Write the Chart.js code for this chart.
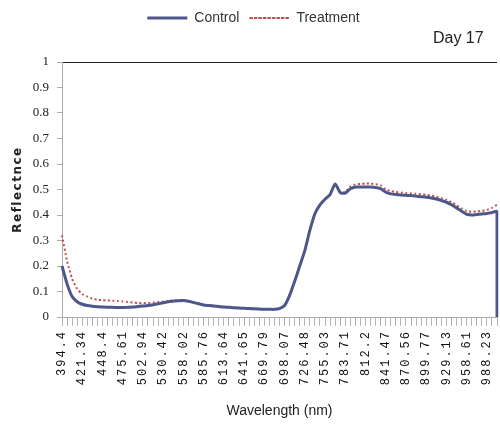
<!DOCTYPE html>
<html>
<head>
<meta charset="utf-8">
<script src="https://cdn.jsdelivr.net/npm/chart.js@4"></script>
<style>
  body { margin: 0; background: #fff; }
  canvas { display: block; }
</style>
</head>
<body>
<canvas id="chart" width="500" height="425"></canvas>
<script>
// wavelength categories (nm); every 4th one is a labelled tick
const wavelengths = [
  '394.4', '401.1', '407.9', '414.6', '421.34', '428.1', '434.9', '441.6',
  '448.4', '455.2', '462.0', '468.8', '475.61', '482.4', '489.3', '496.1',
  '502.94', '509.8', '516.7', '523.6', '530.42', '537.3', '544.2', '551.1',
  '558.02', '564.9', '571.9', '578.8', '585.76', '592.7', '599.7', '606.7',
  '613.64', '620.6', '627.6', '634.6', '641.65', '648.7', '655.7', '662.8',
  '669.79', '676.9', '683.9', '691.0', '698.07', '705.2', '712.3', '719.4',
  '726.48', '733.6', '740.7', '747.9', '755.03', '762.2', '769.4', '776.5',
  '783.71', '790.8', '798.0', '805.1', '812.2', '819.5', '826.8', '834.1',
  '841.47', '848.7', '856.0', '863.3', '870.56', '877.9', '885.2', '892.5',
  '899.77', '907.1', '914.4', '921.8', '929.13', '936.5', '943.9', '951.2',
  '958.61', '966.0', '973.4', '980.8', '988.23', '995.6', '1003.0'
];

const control = [
  0.20, 0.13, 0.08, 0.06, 0.05, 0.045, 0.042, 0.04,
  0.039, 0.038, 0.038, 0.037, 0.037, 0.038, 0.039, 0.041,
  0.043, 0.045, 0.048, 0.052, 0.056, 0.06, 0.062, 0.064,
  0.065, 0.062, 0.057, 0.052, 0.047, 0.045, 0.043, 0.041,
  0.039, 0.038, 0.036, 0.035, 0.034, 0.033, 0.032, 0.031,
  0.03, 0.03, 0.03, 0.033, 0.045, 0.085, 0.14, 0.2,
  0.26, 0.34, 0.405, 0.44, 0.462, 0.48, 0.522, 0.488,
  0.486, 0.503, 0.51, 0.51, 0.51, 0.51, 0.508, 0.503,
  0.49, 0.483, 0.48, 0.478, 0.477, 0.476, 0.474, 0.472,
  0.47, 0.467, 0.463, 0.457, 0.45, 0.44, 0.428, 0.415,
  0.403, 0.4, 0.402, 0.404, 0.406, 0.41, 0.413
];
// control trace falls straight to zero at the last wavelength
const controlEnd = 0;

const treatment = [
  0.32, 0.22, 0.15, 0.11, 0.09, 0.08, 0.072, 0.068,
  0.066, 0.065, 0.064, 0.063, 0.061, 0.059, 0.057, 0.055,
  0.054, 0.055, 0.057, 0.059, 0.061, 0.063, 0.065, 0.066,
  0.066, 0.063, 0.058, 0.053, 0.048, 0.046, 0.044, 0.042,
  0.04, 0.039, 0.037, 0.036, 0.035, 0.034, 0.033, 0.032,
  0.031, 0.031, 0.031, 0.034, 0.046, 0.086, 0.14, 0.2,
  0.26, 0.34, 0.405, 0.44, 0.462, 0.48, 0.522, 0.49,
  0.49, 0.512, 0.52, 0.522, 0.523, 0.523, 0.521, 0.516,
  0.5, 0.494, 0.49, 0.488, 0.486, 0.485, 0.483, 0.481,
  0.479, 0.476, 0.472, 0.466, 0.46, 0.45, 0.438, 0.426,
  0.415, 0.413, 0.414, 0.416, 0.42, 0.428, 0.44
];

function withSpacing(ctx, spacing, fn) {
  ctx.save();
  ctx.letterSpacing = spacing;
  fn();
  ctx.restore();
}

// tick labels on the x axis are letter-spaced
class SpacedCategory extends Chart.CategoryScale {
  static id = 'spacedCategory';
  drawLabels(area) {
    withSpacing(this.ctx, '2px', () => super.drawLabels(area));
  }
}

// y axis title is letter-spaced
class SpacedLinear extends Chart.LinearScale {
  static id = 'spacedLinear';
  drawTitle() {
    withSpacing(this.ctx, '1.5px', () => super.drawTitle());
  }
}

Chart.register(SpacedCategory, SpacedLinear);

const controlData = wavelengths.map((w, i) => ({ x: w, y: control[i] }));
controlData.push({ x: wavelengths[wavelengths.length - 1], y: controlEnd });

new Chart(document.getElementById('chart'), {
  type: 'line',
  data: {
    labels: wavelengths,
    datasets: [{
      label: 'Control',
      data: controlData,
      borderColor: '#4e5789',
      borderWidth: 3,
      pointRadius: 0,
      tension: 0.2,
      fill: false
    }, {
      label: 'Treatment',
      data: treatment,
      borderColor: '#c0504d',
      borderWidth: 2,
      borderDash: [2, 2.5],
      pointRadius: 0,
      tension: 0.2,
      fill: false
    }]
  },
  options: {
    responsive: false,
    animation: false,
    layout: { padding: { left: 10, right: 3, top: 1, bottom: 0 } },
    plugins: {
      legend: {
        position: 'top',
        labels: {
          boxWidth: 40,
          boxHeight: 0,
          padding: 10,
          color: '#333',
          font: { family: 'Liberation Sans', size: 14 }
        }
      },
      title: {
        display: true,
        text: 'Day 17\u00a0\u00a0\u00a0',
        align: 'end',
        weight: 500,
        color: '#222',
        font: { family: 'Liberation Sans', size: 16, weight: 'normal', lineHeight: 0.5 },
        padding: { top: 0, bottom: 19 }
      },
      tooltip: { enabled: false }
    },
    scales: {
      x: {
        type: 'spacedCategory',
        afterFit: (scale) => {
          scale.height = 108;
          scale.paddingLeft = 0;
          scale.paddingRight = 0;
        },
        border: { color: '#aaa' },
        grid: {
          drawOnChartArea: false,
          tickLength: 9,
          tickColor: '#b5b5b5'
        },
        ticks: {
          autoSkip: false,
          minRotation: 90,
          maxRotation: 90,
          padding: 4,
          color: '#111',
          font: { family: 'Liberation Mono', size: 12 },
          callback: (v, i) => (i % 4 === 0 && i <= 84) ? wavelengths[i] : ''
        },
        title: {
          display: true,
          text: 'Wavelength (nm)',
          color: '#222',
          font: { family: 'Liberation Sans', size: 14 },
          padding: { top: 4, bottom: 5 }
        }
      },
      y: {
        type: 'spacedLinear',
        min: 0,
        max: 1,
        afterFit: (scale) => { scale.width = 52; },
        border: { color: '#aaa' },
        grid: {
          color: (c) => c.tick && c.tick.value === 1 ? '#222' : 'rgba(0,0,0,0)',
          tickColor: '#aaa',
          tickLength: 5
        },
        ticks: {
          stepSize: 0.1,
          padding: 8,
          color: '#222',
          font: { family: 'Liberation Serif', size: 13 },
          callback: (v) => String(Number(v.toFixed(1)))
        },
        title: {
          display: true,
          text: 'Reflectnce',
          color: '#222',
          font: { family: 'DejaVu Sans', size: 12, weight: 'bold' },
          padding: { top: 1, bottom: 0 }
        }
      }
    }
  }
});
</script>
</body>
</html>
